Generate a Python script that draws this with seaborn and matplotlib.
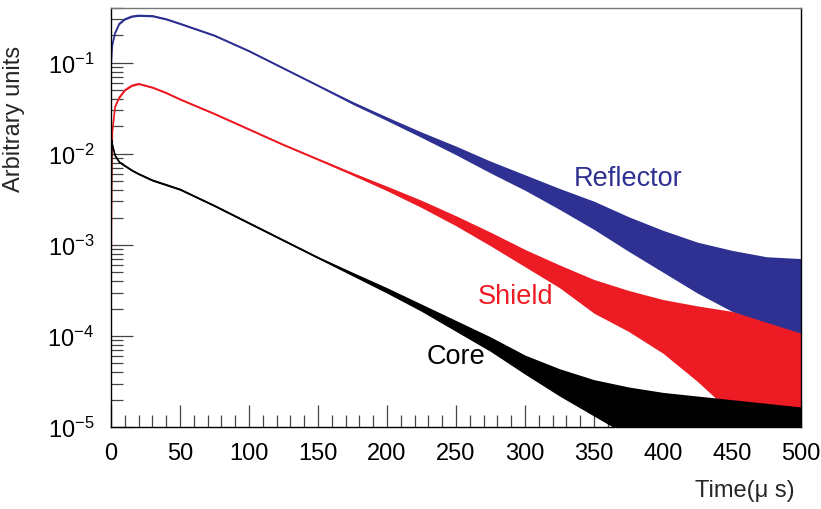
import numpy as np
import pandas as pd
import seaborn as sns
import matplotlib
matplotlib.use("Agg")
import matplotlib.pyplot as plt
from matplotlib.ticker import LogLocator, MultipleLocator, NullFormatter

time_us = [0, 0.5, 1, 3, 6, 10, 15, 20, 30, 40, 50, 75, 100, 125, 150,
           175, 200, 225, 250, 275, 300, 325, 350, 375, 400, 425, 450, 475, 500]

# log10 of the signal: centre line plus upper / lower edge of the noise band
reflector_mid = [-1.05, -0.90, -0.80, -0.67, -0.57, -0.52, -0.49, -0.48, -0.485, -0.52, -0.57,
                 -0.70, -0.87, -1.06, -1.25, -1.44, -1.615, -1.79, -1.96, -2.14, -2.31, -2.48,
                 -2.65, -2.85, -3.03, -3.20, -3.33, -3.45, -3.53]
reflector_hi = [-1.04, -0.89, -0.79, -0.66, -0.56, -0.51, -0.48, -0.47, -0.475, -0.51, -0.56,
                -0.69, -0.86, -1.05, -1.24, -1.425, -1.595, -1.76, -1.915, -2.08, -2.23, -2.38,
                -2.52, -2.69, -2.84, -2.97, -3.06, -3.13, -3.15]
reflector_lo = [-1.06, -0.91, -0.81, -0.68, -0.58, -0.53, -0.50, -0.49, -0.495, -0.53, -0.58,
                -0.71, -0.88, -1.07, -1.26, -1.455, -1.635, -1.82, -2.01, -2.21, -2.40, -2.61,
                -2.83, -3.07, -3.30, -3.53, -3.73, -3.89, -3.99]

shield_mid = [-3.50, -2.20, -1.75, -1.48, -1.38, -1.30, -1.25, -1.23, -1.27, -1.33, -1.40,
              -1.56, -1.73, -1.90, -2.06, -2.22, -2.38, -2.55, -2.73, -2.93, -3.14, -3.34,
              -3.52, -3.69, -3.85, -3.99, -4.12, -4.27, -4.41]
shield_hi = [-3.49, -2.19, -1.74, -1.47, -1.37, -1.29, -1.24, -1.22, -1.26, -1.32, -1.39,
             -1.55, -1.72, -1.89, -2.05, -2.205, -2.355, -2.51, -2.68, -2.86, -3.05, -3.22,
             -3.38, -3.50, -3.60, -3.67, -3.73, -3.85, -3.97]
shield_lo = [-3.51, -2.21, -1.76, -1.49, -1.39, -1.31, -1.26, -1.24, -1.28, -1.34, -1.41,
             -1.57, -1.74, -1.91, -2.07, -2.235, -2.405, -2.59, -2.79, -3.01, -3.24, -3.47,
             -3.75, -3.95, -4.19, -4.50, -4.85, -5.10, -5.10]

core_mid = [-2.95, -1.85, -1.90, -2.02, -2.09, -2.13, -2.18, -2.22, -2.29, -2.34, -2.39,
            -2.57, -2.76, -2.95, -3.14, -3.32, -3.50, -3.69, -3.89, -4.08, -4.29, -4.48,
            -4.63, -4.76, -4.86, -4.92, -4.95, -4.97, -4.98]
core_hi = [-2.94, -1.84, -1.89, -2.01, -2.08, -2.12, -2.17, -2.21, -2.28, -2.33, -2.38,
           -2.56, -2.75, -2.94, -3.13, -3.30, -3.47, -3.65, -3.83, -4.01, -4.21, -4.36,
           -4.48, -4.56, -4.62, -4.66, -4.70, -4.74, -4.78]
core_lo = [-2.96, -1.86, -1.91, -2.03, -2.10, -2.14, -2.19, -2.23, -2.30, -2.35, -2.40,
           -2.58, -2.77, -2.96, -3.15, -3.34, -3.53, -3.73, -3.95, -4.17, -4.42, -4.66,
           -4.88, -5.10, -5.10, -5.10, -5.10, -5.10, -5.10]

detectors = ["Reflector", "Shield", "Core"]
colors = {"Reflector": "#2e3192", "Shield": "#ed1c24", "Core": "#000000"}

series = {
    "Reflector": (reflector_lo, reflector_mid, reflector_hi),
    "Shield": (shield_lo, shield_mid, shield_hi),
    "Core": (core_lo, core_mid, core_hi),
}

rows = []
for name in detectors:
    for arr in series[name]:
        for t, v in zip(time_us, arr):
            rows.append({"Time": t, "Signal": 10.0 ** v, "Detector": name})
df = pd.DataFrame(rows)

sns.set_theme(style="ticks")
plt.rcParams["font.family"] = ["Liberation Sans", "DejaVu Sans"]
plt.rcParams["mathtext.default"] = "regular"
plt.rcParams["axes.unicode_minus"] = False

fig = plt.figure(figsize=(8.21, 5.10), dpi=100)
ax = fig.add_axes([111 / 821, 1 - 428 / 510, 690 / 821, 419 / 510])
ax.set_yscale("log")

# median = centre line, 0-100 percentile band = noise envelope
sns.lineplot(data=df, x="Time", y="Signal", hue="Detector", hue_order=detectors,
             palette=colors, estimator="median", errorbar=("pi", 100),
             err_kws={"alpha": 1, "linewidth": 0}, linewidth=1.2, legend=False, ax=ax)

ax.set_xlim(0, 500)
ax.set_ylim(1e-5, 0.4)

ax.xaxis.set_major_locator(MultipleLocator(50))
ax.xaxis.set_minor_locator(MultipleLocator(10))
ax.yaxis.set_major_locator(LogLocator(base=10))
ax.yaxis.set_minor_locator(LogLocator(base=10, subs=np.arange(2, 10)))
ax.yaxis.set_minor_formatter(NullFormatter())

ax.tick_params(axis="both", which="major", direction="in", length=16, width=0.9,
               color="#444444", labelsize=17, labelcolor="black")
ax.tick_params(axis="both", which="minor", direction="in", length=8.5, width=0.9,
               color="#444444")
ax.tick_params(axis="x", which="major", pad=11)
ax.tick_params(axis="y", which="major", pad=12)

for side in ["left", "right", "top", "bottom"]:
    ax.spines[side].set_color("black")
    ax.spines[side].set_linewidth(1.0)
ax.spines["top"].set_color("#777777")

ax.set_xlabel("Time(μ s)", fontsize=17)
ax.set_ylabel("Arbitrary units", fontsize=17)
ax.xaxis.set_label_coords(0.991, -0.125)
ax.xaxis.label.set_horizontalalignment("right")
ax.yaxis.set_label_coords(-0.125, 0.738)

ax.text(375, 4.6e-3, "Reflector", color=colors["Reflector"], fontsize=19.5,
        ha="center", va="baseline")
ax.text(293, 2.3e-4, "Shield", color=colors["Shield"], fontsize=19.5,
        ha="center", va="baseline")
ax.text(250, 5.0e-5, "Core", color=colors["Core"], fontsize=19.5,
        ha="center", va="baseline")

fig.savefig("out.png", dpi=100)
